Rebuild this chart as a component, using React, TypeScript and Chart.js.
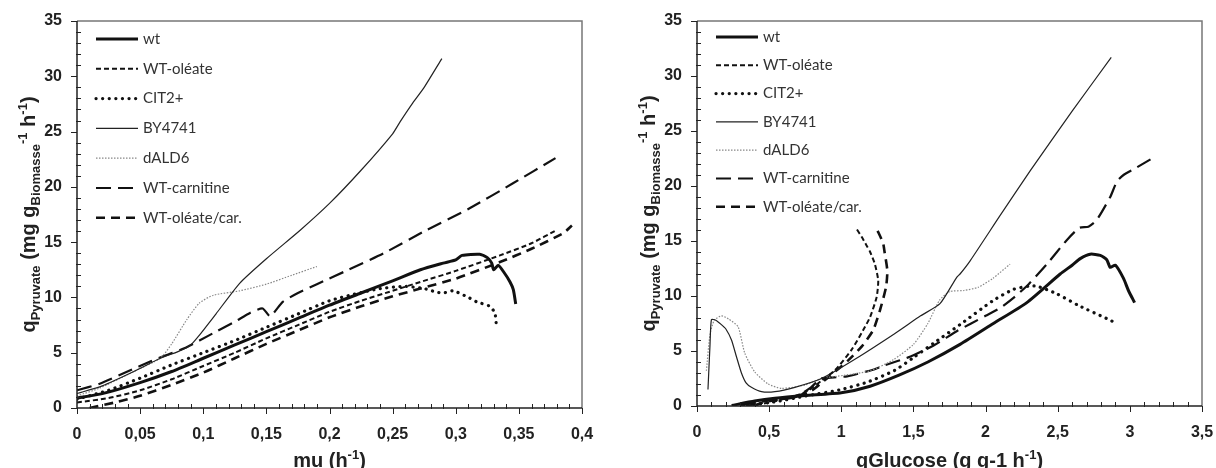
import React, { useEffect, useRef } from 'react';
import { Chart, registerables } from 'chart.js';

Chart.register(...registerables);

// ---------- DATA ----------
const seriesNames = ['wt', 'WT-oléate', 'CIT2+', 'BY4741', 'dALD6', 'WT-carnitine', 'WT-oléate/car.'];

const xTicksMu = [0, 0.05, 0.1, 0.15, 0.2, 0.25, 0.3, 0.35, 0.4];
const xTicksGlc = [0, 0.5, 1, 1.5, 2, 2.5, 3, 3.5];
const yTicks = [0, 5, 10, 15, 20, 25, 30, 35];

// Left chart: [mu (h-1), qPyruvate]
const muWt = [[0, 0.9], [0.02, 1.3], [0.05, 2.3], [0.075, 3.3], [0.1, 4.5], [0.125, 5.7], [0.15, 6.9], [0.175, 8.1], [0.2, 9.3], [0.225, 10.4], [0.25, 11.5], [0.272, 12.5], [0.29, 13.1], [0.3, 13.4], [0.305, 13.8], [0.319, 13.9], [0.325, 13.6], [0.3285, 13.1], [0.33, 12.5], [0.3337, 12.9], [0.338, 12.3], [0.343, 11.4], [0.3456, 10.7], [0.3475, 9.4]];
const muOleate = [[0, 0.5], [0.025, 0.9], [0.05, 1.6], [0.075, 2.6], [0.1, 3.8], [0.125, 5.0], [0.15, 6.3], [0.175, 7.5], [0.2, 8.7], [0.225, 9.7], [0.25, 10.6], [0.272, 11.4], [0.3, 12.4], [0.335, 13.8], [0.36, 14.9], [0.38, 16.1]];
const muCit2 = [[0, 0.8], [0.025, 1.6], [0.05, 2.7], [0.075, 3.9], [0.1, 5.0], [0.125, 6.1], [0.15, 7.3], [0.175, 8.5], [0.2, 9.7], [0.22, 10.3], [0.24, 10.8], [0.26, 11.0], [0.275, 10.8], [0.284, 10.5], [0.29, 10.4], [0.298, 10.6], [0.31, 10.0], [0.3166, 9.6], [0.327, 9.2], [0.331, 8.6], [0.332, 7.7]];
const muBy4741 = [[0, 1.3], [0.02, 2.0], [0.045, 3.3], [0.066, 4.5], [0.08, 5.1], [0.09, 5.7], [0.097, 6.6], [0.11, 8.5], [0.129, 11.3], [0.15, 13.5], [0.177, 16.1], [0.2, 18.5], [0.225, 21.5], [0.25, 24.8], [0.256, 25.9], [0.266, 27.6], [0.275, 29.0], [0.289, 31.6]];
const muDald6 = [[0, 1.1], [0.018, 1.8], [0.045, 3.3], [0.066, 4.5], [0.075, 5.8], [0.087, 8.0], [0.097, 9.5], [0.108, 10.2], [0.129, 10.6], [0.15, 11.2], [0.17, 12.0], [0.19, 12.8]];
const muCarnitine = [[0, 1.6], [0.018, 2.2], [0.04, 3.3], [0.058, 4.2], [0.071, 4.8], [0.085, 5.4], [0.097, 6.1], [0.11, 6.9], [0.125, 7.8], [0.137, 8.6], [0.147, 9.0], [0.153, 8.3], [0.163, 9.6], [0.175, 10.4], [0.19, 11.2], [0.215, 12.5], [0.243, 14.0], [0.277, 16.1], [0.31, 18.0], [0.345, 20.3], [0.379, 22.6]];
const muOleateCar = [[0.01, 0.0], [0.03, 0.5], [0.05, 1.1], [0.075, 2.1], [0.1, 3.2], [0.125, 4.5], [0.15, 5.8], [0.175, 7.0], [0.2, 8.2], [0.225, 9.2], [0.25, 10.1], [0.272, 10.8], [0.3, 11.7], [0.335, 13.2], [0.36, 14.4], [0.385, 15.8], [0.392, 16.5]];

// Right chart: [qGlucose (g g-1 h-1), qPyruvate]
const glcWt = [[0.24, 0.05], [0.4, 0.45], [0.54, 0.7], [0.75, 0.95], [1.0, 1.2], [1.2, 1.8], [1.4, 2.8], [1.6, 4.0], [1.823, 5.6], [2.054, 7.5], [2.286, 9.4], [2.517, 12.0], [2.6, 12.8], [2.656, 13.4], [2.725, 13.8], [2.795, 13.7], [2.84, 13.3], [2.864, 12.6], [2.9, 12.8], [2.956, 11.6], [2.99, 10.5], [3.033, 9.4]];
const glcOleate = [[0.3, 0.0], [0.45, 0.2], [0.56, 0.5], [0.7, 1.0], [0.77, 1.4], [0.863, 2.3], [0.956, 3.25], [1.071, 5.1], [1.152, 6.9], [1.2, 8.1], [1.245, 9.9], [1.256, 11.4], [1.233, 12.9], [1.2, 14.0], [1.175, 14.6], [1.14, 15.4], [1.106, 16.1]];
const glcCit2 = [[0.35, 0.05], [0.55, 0.4], [0.75, 0.9], [1.0, 1.5], [1.187, 2.2], [1.372, 3.25], [1.5, 4.4], [1.65, 5.8], [1.823, 7.4], [2.054, 9.6], [2.193, 10.6], [2.3, 10.9], [2.355, 10.9], [2.494, 10.2], [2.65, 9.1], [2.84, 7.95], [2.894, 7.6]];
const glcBy4741 = [[0.076, 1.5], [0.09, 5.5], [0.1, 7.85], [0.13, 7.8], [0.169, 7.4], [0.2, 7.0], [0.239, 6.0], [0.273, 4.5], [0.308, 3.0], [0.34, 2.1], [0.377, 1.7], [0.447, 1.3], [0.54, 1.3], [0.678, 1.7], [0.863, 2.5], [1.1, 4.3], [1.372, 6.6], [1.55, 8.2], [1.684, 9.3], [1.8, 11.7], [1.823, 12.0], [1.893, 13.2], [2.1, 17.3], [2.31, 21.4], [2.6, 26.8], [2.871, 31.7]];
const glcDald6 = [[0.065, 3.2], [0.09, 6.5], [0.12, 7.8], [0.169, 8.2], [0.22, 7.9], [0.285, 7.2], [0.331, 4.8], [0.4, 3.1], [0.493, 2.0], [0.586, 1.6], [0.747, 1.9], [0.863, 2.5], [1.025, 2.8], [1.2, 3.2], [1.36, 4.2], [1.5, 5.6], [1.6, 7.5], [1.68, 9.6], [1.75, 10.4], [1.85, 10.5], [1.95, 10.8], [2.05, 11.6], [2.17, 12.9]];
const glcCarnitine = [[0.3, 0.1], [0.5, 0.5], [0.68, 0.8], [0.79, 1.7], [0.86, 2.5], [0.95, 2.6], [1.04, 2.7], [1.22, 3.3], [1.3, 3.7], [1.48, 4.5], [1.64, 5.5], [1.8, 6.8], [1.9, 7.5], [2.0, 8.2], [2.1, 8.9], [2.2, 9.9], [2.3, 11.1], [2.425, 12.9], [2.564, 15.1], [2.65, 16.2], [2.713, 16.3], [2.77, 16.9], [2.864, 19.0], [2.91, 20.4], [2.956, 21.0], [3.05, 21.7], [3.153, 22.5]];
const glcOleateCar = [[0.4, 0.0], [0.447, 0.3], [0.68, 0.85], [0.794, 1.4], [0.909, 2.6], [1.048, 4.15], [1.141, 5.4], [1.221, 6.9], [1.268, 8.7], [1.31, 10.8], [1.319, 12.3], [1.3, 14.0], [1.29, 14.8], [1.26, 15.7], [1.233, 16.4]];

const leftSeries = [muWt, muOleate, muCit2, muBy4741, muDald6, muCarnitine, muOleateCar];
const rightSeries = [glcWt, glcOleate, glcCit2, glcBy4741, glcDald6, glcCarnitine, glcOleateCar];

// ---------- STYLES ----------
const lineStyles = [
  { color: '#111', width: 3, dash: [] as number[], cap: 'butt' },
  { color: '#111', width: 2, dash: [5, 3], cap: 'butt' },
  { color: '#111', width: 3.2, dash: [0.1, 6.5], cap: 'round' },
  { color: '#222', width: 1.2, dash: [] as number[], cap: 'butt' },
  { color: '#888', width: 1.2, dash: [1.5, 1.5], cap: 'butt' },
  { color: '#111', width: 2.2, dash: [15, 7], cap: 'butt' },
  { color: '#111', width: 2.6, dash: [9, 6], cap: 'butt' },
];

const AX_FONT = '"Liberation Sans", Arial, Helvetica, sans-serif';
const LEG_FONT = 'Lato, "Open Sans", sans-serif';

type Seg = { t: string; k?: 'sub' | 'sup' };

function drawRich(ctx: CanvasRenderingContext2D, segs: Seg[], cx: number, baseY: number, main: number, small: number) {
  const fontFor = (s: Seg) => `bold ${s.k ? small : main}px ${AX_FONT}`;
  let total = 0;
  for (const s of segs) { ctx.font = fontFor(s); total += ctx.measureText(s.t).width; }
  let x = cx - total / 2;
  ctx.textAlign = 'left';
  ctx.textBaseline = 'alphabetic';
  for (const s of segs) {
    ctx.font = fontFor(s);
    const dy = s.k === 'sub' ? 5 : s.k === 'sup' ? -8 : 0;
    ctx.fillText(s.t, x, baseY + dy);
    x += ctx.measureText(s.t).width;
  }
}

const yTitle: Seg[] = [
  { t: 'q' }, { t: 'Pyruvate', k: 'sub' }, { t: ' (mg g' }, { t: 'Biomasse', k: 'sub' }, { t: '-1', k: 'sup' }, { t: ' h' }, { t: '-1', k: 'sup' }, { t: ')' },
];
const xTitleMu: Seg[] = [{ t: 'mu (h' }, { t: '-1', k: 'sup' }, { t: ')' }];
const xTitleGlc: Seg[] = [{ t: 'qGlucose (g g-1 h' }, { t: '-1', k: 'sup' }, { t: ')' }];

const decorPlugin = {
  id: 'decor',
  afterDraw(chart: any, _args: any, opts: any) {
    const { ctx, chartArea: a, scales } = chart;
    const xs = scales.x, ys = scales.y;
    ctx.save();
    ctx.setLineDash([]);
    // tick marks
    ctx.strokeStyle = '#222';
    ctx.lineWidth = 1;
    const nx = Math.round((xs.max - xs.min) / opts.xMinor);
    const rx = Math.round(opts.xMajor / opts.xMinor);
    ctx.beginPath();
    for (let i = 0; i <= nx; i++) {
      const px = Math.round(xs.getPixelForValue(xs.min + i * opts.xMinor)) + 0.5;
      if (i % rx === 0) { ctx.moveTo(px, a.bottom); ctx.lineTo(px, a.bottom + 6); }
      else { ctx.moveTo(px, a.bottom - 4); ctx.lineTo(px, a.bottom + 1); }
    }
    const ny = Math.round((ys.max - ys.min) / opts.yMinor);
    const ry = Math.round(opts.yMajor / opts.yMinor);
    for (let i = 0; i <= ny; i++) {
      const py = Math.round(ys.getPixelForValue(ys.min + i * opts.yMinor)) + 0.5;
      if (i % ry === 0) { ctx.moveTo(a.left - 6, py); ctx.lineTo(a.left, py); }
      else { ctx.moveTo(a.left - 1, py); ctx.lineTo(a.left + 4, py); }
    }
    ctx.stroke();
    // frame
    ctx.lineWidth = 1.5;
    ctx.strokeStyle = '#777';
    ctx.beginPath();
    ctx.moveTo(a.left, a.top); ctx.lineTo(a.right, a.top); ctx.lineTo(a.right, a.bottom);
    ctx.stroke();
    ctx.strokeStyle = '#222';
    ctx.beginPath();
    ctx.moveTo(a.left, a.top); ctx.lineTo(a.left, a.bottom); ctx.lineTo(a.right, a.bottom);
    ctx.stroke();
    // legend
    const ds = chart.data.datasets;
    for (let i = 0; i < ds.length; i++) {
      const st = lineStyles[i];
      const y = a.top + opts.legendY + i * opts.legendStep;
      ctx.save();
      ctx.strokeStyle = st.color;
      ctx.lineWidth = st.width;
      ctx.lineCap = st.cap;
      ctx.setLineDash(st.dash);
      ctx.beginPath();
      ctx.moveTo(a.left + 19, y);
      ctx.lineTo(a.left + 61, y);
      ctx.stroke();
      ctx.restore();
      ctx.fillStyle = '#333';
      ctx.font = `15px ${LEG_FONT}`;
      ctx.textAlign = 'left';
      ctx.textBaseline = 'middle';
      ctx.fillText(ds[i].label, a.left + 66, y);
    }
    // axis titles
    ctx.fillStyle = '#222';
    drawRich(ctx, opts.xTitle, (a.left + a.right) / 2, 467, 20, 13);
    ctx.save();
    ctx.translate(opts.yTitleX, (a.top + a.bottom) / 2);
    ctx.rotate(-Math.PI / 2);
    drawRich(ctx, yTitle, 0, 0, 20, 13);
    ctx.restore();
    ctx.restore();
  },
};

const fmt = (v: number) => String(Math.round(v * 100) / 100).replace('.', ',');

function makeConfig(series: number[][][], cfg: any): any {
  return {
    type: 'scatter',
    data: {
      datasets: series.map((pts, i) => ({
        label: seriesNames[i],
        data: pts.map(([x, y]) => ({ x, y })),
        showLine: true,
        fill: false,
        borderColor: lineStyles[i].color,
        borderWidth: lineStyles[i].width,
        borderDash: lineStyles[i].dash,
        borderCapStyle: lineStyles[i].cap,
        pointRadius: 0,
        pointHoverRadius: 0,
        tension: 0.2,
      })),
    },
    options: {
      responsive: false,
      animation: false,
      layout: { padding: { top: 21, right: cfg.padRight, left: 0, bottom: 0 } },
      plugins: {
        legend: { display: false },
        tooltip: { enabled: false },
        decor: cfg.decor,
      },
      scales: {
        x: {
          type: 'linear',
          min: 0,
          max: cfg.xTicks[cfg.xTicks.length - 1],
          grid: { display: false, drawTicks: true, tickLength: 17 },
          border: { display: false },
          afterBuildTicks: (s: any) => { s.ticks = cfg.xTicks.map((v: number) => ({ value: v })); },
          ticks: {
            callback: (v: number) => fmt(v),
            font: { family: AX_FONT, size: 16, weight: 'bold' },
            color: '#222',
            padding: 0,
            maxRotation: 0,
            autoSkip: false,
          },
          afterFit: (s: any) => { s.height = cfg.xAxisH; },
        },
        y: {
          type: 'linear',
          min: 0,
          max: 35,
          grid: { display: false, drawTicks: true, tickLength: 15 },
          border: { display: false },
          afterBuildTicks: (s: any) => { s.ticks = yTicks.map((v) => ({ value: v })); },
          ticks: {
            callback: (v: number) => fmt(v),
            font: { family: AX_FONT, size: 16, weight: 'bold' },
            color: '#222',
            padding: 0,
            autoSkip: false,
          },
          afterFit: (s: any) => { s.width = cfg.yAxisW; },
        },
      },
    },
    plugins: [decorPlugin],
  };
}

function ChartBox({ config }: { config: any }) {
  const ref = useRef<HTMLCanvasElement | null>(null);
  useEffect(() => {
    if (!ref.current) return;
    const ch = new Chart(ref.current, config);
    return () => ch.destroy();
  }, [config]);
  return (
    <div style={{ width: 608, height: 468, position: 'relative' }}>
      <canvas ref={ref} width={608} height={468} style={{ width: 608, height: 468, display: 'block' }} />
    </div>
  );
}

const leftConfig = makeConfig(leftSeries, {
  xTicks: xTicksMu, padRight: 26, xAxisH: 60, yAxisW: 77,
  decor: { xMinor: 0.01, xMajor: 0.05, yMinor: 1, yMajor: 5, legendY: 18, legendStep: 29.8, xTitle: xTitleMu, yTitleX: 35 },
});
const rightConfig = makeConfig(rightSeries, {
  xTicks: xTicksGlc, padRight: 14, xAxisH: 62, yAxisW: 89,
  decor: { xMinor: 0.1, xMajor: 0.5, yMinor: 1, yMajor: 5, legendY: 16, legendStep: 28.3, xTitle: xTitleGlc, yTitleX: 47 },
});

export default function App() {
  return (
    <div style={{ position: 'fixed', left: 0, top: 0, width: 1216, height: 468, background: '#fff', display: 'flex' }}>
      <ChartBox config={leftConfig} />
      <ChartBox config={rightConfig} />
    </div>
  );
}
